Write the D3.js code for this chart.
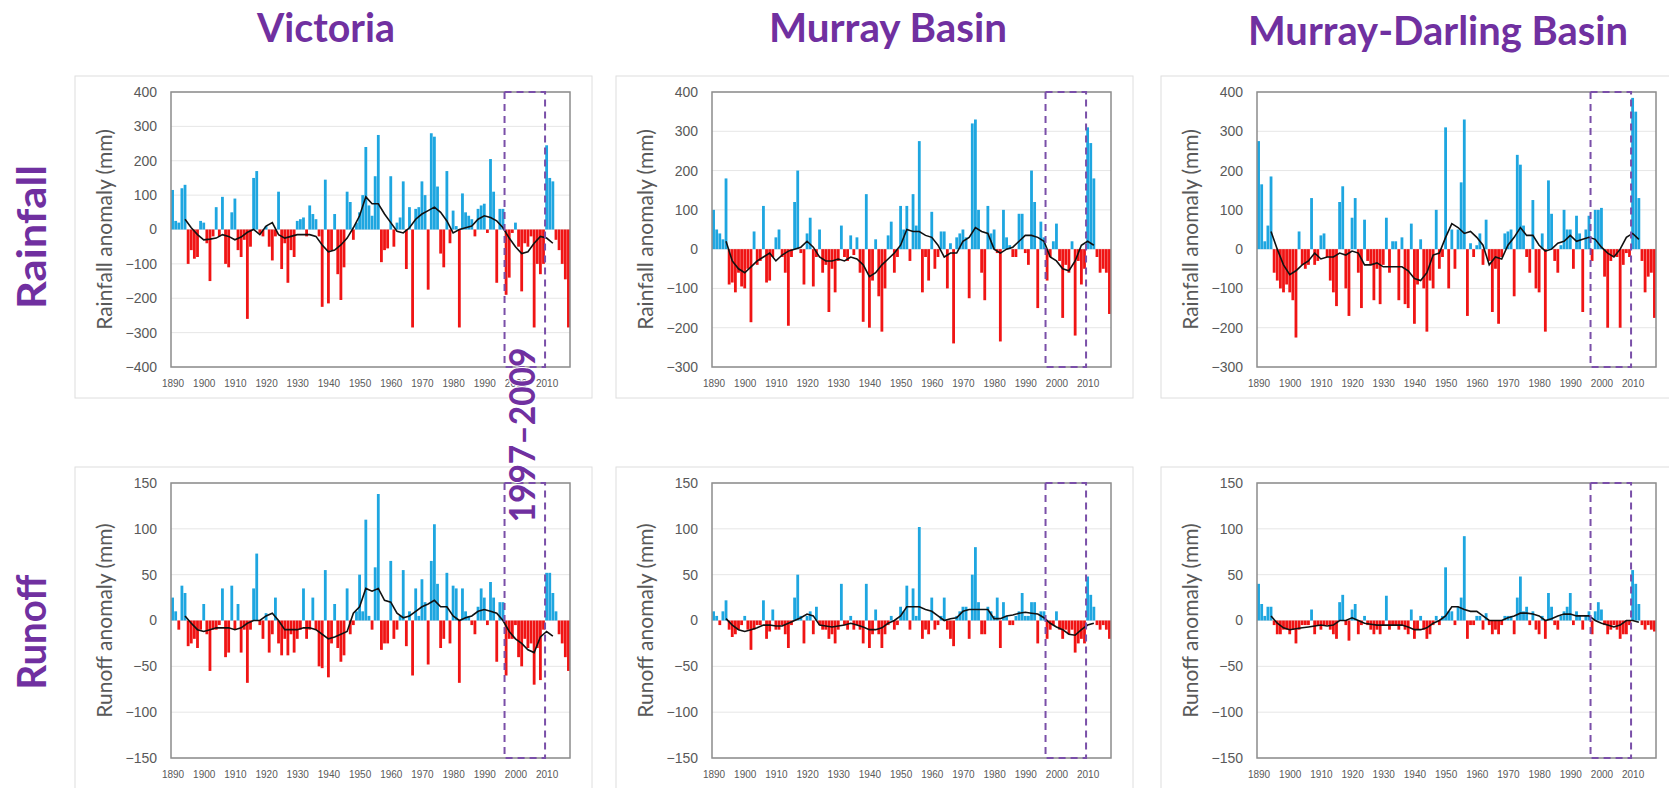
<!DOCTYPE html>
<html>
<head>
<meta charset="utf-8">
<script src="https://cdn.jsdelivr.net/npm/d3@7"></script>
<style>
body { margin: 0; background: #fff; }
svg { display: block; font-family: Lato, "Open Sans", sans-serif; }
</style>
</head>
<body>
<div id="chart"></div>
<script>
// years on the x axis and the decade labels
var firstYear = 1890, lastYear = 2017;
var xTicks = [1890, 1900, 1910, 1920, 1930, 1940, 1950, 1960, 1970, 1980, 1990, 2000, 2010];
// y tick labels
var vicRainTicks = [-400, -300, -200, -100, 0, 100, 200, 300, 400];
var basinRainTicks = [-300, -200, -100, 0, 100, 200, 300, 400];
var runoffTicks = [-150, -100, -50, 0, 50, 100, 150];
// years of the running mean (black line)
var maFirst = 1894, maLast = 2012, maStep = 2;
// the drought window
var droughtStart = 1997, droughtEnd = 2009;

var titles = ["Victoria", "Murray Basin", "Murray-Darling Basin"];
var rowNames = ["Rainfall", "Runoff"];

// annual anomalies 1890..2017 (mm)
var vicRain = [
	115, 25, 20, 120, 130, -100, -60, -85, -80, 25,
	20, -40, -150, -20, 65, -20, 95, -100, -110, 50,
	90, -60, -80, -30, -260, -50, 150, 170, -10, -20,
	10, -50, -90, -20, 110, -115, -40, -155, -60, -80,
	25, 30, 35, -20, 70, 45, 30, -20, -225, 145,
	-215, -60, 45, -130, -205, -110, 110, 80, -30, 20,
	50, 100, 240, 70, 40, 155, 275, -95, -60, -55,
	155, -50, 20, 35, 140, -115, 65, -285, 60, 65,
	140, 100, -175, 280, 270, 125, -70, -110, 170, -40,
	55, 10, -285, 105, 50, 40, 30, -20, 60, 70,
	75, -10, 205, 110, -155, 60, 60, -190, -140, -10,
	20, -50, -180, -40, -50, -20, -285, -100, -130, -100,
	245, 150, 140, -30, -60, -100, -145, -285
];
var vicRunoff = [
	25, 10, -10, 38, 30, -28, -25, -20, -30, -10,
	18, -15, -55, -10, -10, -5, 35, -40, -35, 38,
	-10, 18, -35, -10, -68, -10, 35, 73, -5, -20,
	8, -35, -15, 25, -25, -38, -20, -38, -15, -35,
	-20, -10, 35, -20, -10, 25, -10, -50, -52, 55,
	-62, -25, 18, -30, -45, -38, 35, -15, -5, 10,
	50, 10, 110, 5, -10, 58, 138, -32, -25, -25,
	65, -20, -10, 5, 55, -28, 10, -60, 35, 5,
	45, 20, -48, 65, 105, 40, -30, -20, 52, -25,
	38, 35, -68, 35, 10, 5, -5, -15, 15, 35,
	25, -5, 42, 25, -45, 20, 20, -60, -20, -20,
	-5, -40, -50, -20, -30, -25, -70, -30, -65, -10,
	52, 52, 30, 10, -15, -25, -40, -55
];
var murRain = [
	100, 50, 40, 25, 180, -90, -85, -110, -60, -95,
	-100, -50, -186, 45, -40, -30, 110, -85, -80, -20,
	30, 50, -20, -60, -195, -20, 120, 200, -10, -90,
	40, 80, -95, -20, 50, -60, -40, -160, -50, -110,
	-30, 60, -20, -30, 35, -15, 30, -60, -185, 140,
	-200, -80, 25, -120, -210, -100, 35, 70, -60, -20,
	110, 50, 110, -30, 140, 60, 275, -110, -20, -80,
	95, -50, -20, 45, 45, -100, 15, -240, 30, 40,
	50, 30, -125, 320, 330, 100, -60, -130, 110, 40,
	50, -10, -235, 100, 30, 10, -20, -20, 90, 90,
	-10, -40, 200, 120, -150, 70, 30, -80, -20, 20,
	65, -30, -175, -40, -60, 20, -220, -30, -90, -50,
	310, 270, 180, -20, -60, -50, -60, -165
];
var murRunoff = [
	10, 5, -5, 10, 22, -10, -18, -15, -10, -5,
	5, -10, -32, -10, -5, -5, 22, -20, -12, 12,
	-10, -10, -5, -15, -30, -5, 25, 50, 5, -25,
	5, 10, -15, 15, -5, -10, -10, -20, -15, -25,
	-10, 40, -5, -10, 5, -10, -5, -10, -25, 40,
	-30, -15, 12, -15, -30, -15, -5, 5, -10, -5,
	15, 10, 38, -10, 35, 5, 102, -20, -10, -15,
	25, -10, -5, 5, 25, -10, -20, -28, 5, 10,
	15, 15, -20, 50, 80, 20, -15, -15, 15, 10,
	5, 25, -30, 20, 5, -5, -5, 5, 10, 30,
	5, 5, 20, 20, -25, 10, 10, -20, -10, -5,
	10, -10, -20, -10, -15, -10, -35, -25, -20, -25,
	48, 28, 15, -5, -10, -5, -10, -20
];
var mdbRain = [
	275, 165, 20, 60, 185, -60, -80, -100, -110, -90,
	-110, -130, -225, 45, -40, -50, -40, 130, -40, -30,
	35, 40, -20, -80, -110, -145, 120, 160, -100, -170,
	80, 130, -60, -150, 75, -30, -40, -130, -50, -140,
	-40, 80, -60, 20, 20, -130, 30, -140, -150, 65,
	-190, -90, 25, -100, -210, -80, -100, 100, -50, -20,
	310, -100, 50, -50, 50, 170, 330, -170, 15, -20,
	10, 40, -40, 75, -30, -160, -50, -190, -20, 40,
	45, 50, -120, 240, 215, 60, -20, -60, 125, -100,
	-110, 40, -210, 175, 90, -30, -60, 10, 100, 50,
	50, -50, 85, 40, -160, 50, 85, -30, 100, 100,
	105, -70, -200, -30, -20, -20, -200, -40, -10, -20,
	385, 350, 130, -30, -110, -70, -60, -175
];
var mdbRunoff = [
	40, 18, 5, 15, 15, -5, -15, -15, -10, -10,
	-15, -10, -25, -10, -5, -5, -5, 12, -15, -5,
	-10, -5, -5, -10, -15, -20, 20, 28, -5, -22,
	12, 18, -15, -5, 5, -5, -10, -15, -10, -15,
	-5, 27, -10, -5, -5, -10, -5, -10, -15, 12,
	-20, -10, 5, -10, -20, -15, -5, 5, -5, 5,
	58, 10, 10, -5, 15, 25, 92, -20, -5, -5,
	5, 5, -10, 8, -5, -15, -10, -15, -5, 5,
	5, 5, -15, 25, 48, 10, 15, -5, 10, -10,
	-15, 5, -20, 30, 15, -5, -10, 5, 10, 15,
	30, -5, 10, 5, -10, 5, 10, -15, 10, 20,
	12, -5, -15, -10, -5, -10, -20, -15, -15, -5,
	55, 40, 18, -5, -10, -5, -10, -12
];

// running mean, every 2nd year 1894..2012
var vicRainMA = [
	30, 5, -15, -30, -28, -25, -15, -20, -30, -22,
	-8, 0, -15, 10, 20, -15, -25, -20, -15, -15,
	-15, -20, -45, -65, -60, -45, -25, 5, 40, 95,
	75, 75, 45, 20, -5, -10, 5, 30, 45, 55,
	65, 50, 25, -10, 0, 5, 10, 30, 40, 35,
	25, 5, -25, -50, -70, -65, -40, -20, -25, -40
];
var vicRunoffMA = [
	5, -3, -10, -12, -10, -8, -8, -8, -10, -8,
	-3, 0, 0, 5, 8, 0, -10, -10, -10, -8,
	-8, -10, -15, -20, -18, -15, -12, 8, 15, 35,
	32, 35, 22, 20, 8, 3, 5, 10, 15, 18,
	22, 15, 15, 5, 0, 3, 5, 10, 12, 10,
	8, 0, -12, -20, -25, -32, -35, -18, -12, -17
];
var murRainMA = [
	20, -30, -50, -60, -45, -30, -20, -10, -30, -15,
	-5, 0, 5, 20, 5, -20, -30, -30, -25, -30,
	-20, -25, -40, -70, -60, -40, -25, -10, 10, 50,
	45, 45, 35, 30, 10, -20, -10, -10, 20, 30,
	55, 45, 40, 0, -10, 0, 5, 20, 35, 35,
	30, 20, -20, -30, -50, -55, -30, 10, 20, 10
];
var murRunoffMA = [
	2, -5, -10, -12, -10, -8, -5, -5, -6, -6,
	-3, 0, 3, 7, 5, -5, -6, -7, -6, -5,
	-3, -5, -7, -10, -10, -8, -3, 0, 5, 15,
	15, 15, 12, 10, 5, 0, 2, 3, 10, 12,
	12, 12, 12, 2, 2, 5, 6, 8, 9, 8,
	7, 3, -3, -7, -10, -15, -16, -10, -5, -3
];
var mdbRainMA = [
	45, 0, -40, -65, -55, -40, -30, -10, -25, -20,
	-20, -10, -15, -5, -10, -40, -40, -35, -45, -45,
	-45, -45, -55, -75, -80, -60, -15, -10, 30, 65,
	55, 40, 45, 30, 10, -40, -20, -25, 10, 30,
	55, 35, 35, 10, -5, 0, 15, 20, 35, 20,
	25, 30, 25, 5, -10, -20, 0, 30, 40, 25
];
var mdbRunoffMA = [
	5, -3, -8, -10, -9, -8, -7, -6, -5, -6,
	-5, 0, 0, 3, 0, -3, -4, -5, -5, -5,
	-5, -5, -7, -10, -10, -8, -3, 0, 5, 15,
	15, 12, 10, 10, 5, 0, 0, 0, 3, 5,
	8, 8, 7, 5, 0, 2, 5, 7, 7, 5,
	5, 5, 0, -3, -5, -7, -5, 0, 0, -2
];

var purple = "#7030a0", dashColor = "#7a4fa8", blue = "#1ea6e0", red = "#f01414", grey = "#595959";

// layout of the six plot areas
var plotW = 399, plotH = 275;
var colX = [171, 712, 1257];
var rowY = [92, 483];

var years = d3.range(firstYear, lastYear + 1);
var maYears = d3.range(maFirst, maLast + 1, maStep);

var panels = [
	{col: 0, row: 0, bars: vicRain, ma: vicRainMA, ticks: vicRainTicks, label: "Rainfall anomaly (mm)"},
	{col: 1, row: 0, bars: murRain, ma: murRainMA, ticks: basinRainTicks, label: "Rainfall anomaly (mm)"},
	{col: 2, row: 0, bars: mdbRain, ma: mdbRainMA, ticks: basinRainTicks, label: "Rainfall anomaly (mm)"},
	{col: 0, row: 1, bars: vicRunoff, ma: vicRunoffMA, ticks: runoffTicks, label: "Runoff anomaly (mm)"},
	{col: 1, row: 1, bars: murRunoff, ma: murRunoffMA, ticks: runoffTicks, label: "Runoff anomaly (mm)"},
	{col: 2, row: 1, bars: mdbRunoff, ma: mdbRunoffMA, ticks: runoffTicks, label: "Runoff anomaly (mm)"}
];

var svg = d3.select("#chart").append("svg")
	.attr("width", 1669)
	.attr("height", 788);

var drawPanel = function(p) {
	var left = colX[p.col], top = rowY[p.row];
	var g = svg.append("g");

	var x = d3.scaleLinear()
		.domain([firstYear - 0.5, lastYear + 0.5])
		.range([left, left + plotW]);
	var y = d3.scaleLinear()
		.domain(d3.extent(p.ticks))
		.range([top + plotH, top]);

	// chart frame
	g.append("rect")
		.attr("x", left - 96).attr("y", top - 16)
		.attr("width", 517).attr("height", 322)
		.attr("fill", "#fff")
		.attr("stroke", "#dedede");

	// gridlines
	g.selectAll(".grid").data(p.ticks).enter()
		.append("line")
		.attr("x1", left).attr("x2", left + plotW)
		.attr("y1", function(d) { return y(d); })
		.attr("y2", function(d) { return y(d); })
		.attr("stroke", "#e6e6e6");

	// bars
	g.selectAll(".bar").data(p.bars).enter()
		.append("rect")
		.attr("x", function(d, i) { return x(years[i] - 0.45); })
		.attr("width", function(d, i) { return x(years[i] + 0.45) - x(years[i] - 0.45); })
		.attr("y", function(d) { return Math.min(y(d), y(0)); })
		.attr("height", function(d) { return Math.abs(y(d) - y(0)); })
		.attr("fill", function(d) { return d >= 0 ? blue : red; });

	// running mean
	var line = d3.line()
		.x(function(d, i) { return x(maYears[i]); })
		.y(function(d) { return y(d); });
	g.append("path")
		.attr("d", line(p.ma))
		.attr("fill", "none")
		.attr("stroke", "#111")
		.attr("stroke-width", 1.6);

	// plot border
	g.append("rect")
		.attr("x", left).attr("y", top)
		.attr("width", plotW).attr("height", plotH)
		.attr("fill", "none")
		.attr("stroke", "#8c8c8c")
		.attr("stroke-width", 1.5);

	// drought window
	g.append("rect")
		.attr("x", x(droughtStart - 0.5)).attr("y", top)
		.attr("width", x(droughtEnd + 0.5) - x(droughtStart - 0.5))
		.attr("height", plotH)
		.attr("fill", "none")
		.attr("stroke", dashColor)
		.attr("stroke-width", 2)
		.attr("stroke-dasharray", "7,5");

	// axes
	var ya = g.append("g")
		.attr("transform", "translate(" + left + ",0)")
		.call(d3.axisLeft(y).tickValues(p.ticks).tickSize(0).tickPadding(14));
	ya.select(".domain").remove();
	ya.selectAll("text").attr("fill", grey).style("font-size", "14px");

	var xa = g.append("g")
		.attr("transform", "translate(0," + (top + plotH) + ")")
		.call(d3.axisBottom(x).tickValues(xTicks).tickFormat(d3.format("d")).tickSize(0).tickPadding(13));
	xa.select(".domain").remove();
	xa.selectAll("text").attr("fill", grey).style("font-size", "10px");

	g.append("text")
		.attr("transform", "translate(" + (left - 66) + "," + (top + plotH / 2) + ") rotate(-90)")
		.attr("text-anchor", "middle")
		.attr("dy", "0.35em")
		.attr("fill", grey)
		.style("font-size", "21px")
		.text(p.label);
};

panels.forEach(drawPanel);

// column titles
var titleX = [326, 888, 1438], titleW = [138, 238, 380], titleY = [42, 42, 45];
svg.selectAll(".title").data(titles).enter()
	.append("text")
	.attr("x", function(d, i) { return titleX[i]; })
	.attr("y", function(d, i) { return titleY[i]; })
	.attr("text-anchor", "middle")
	.attr("textLength", function(d, i) { return titleW[i]; })
	.attr("lengthAdjust", "spacingAndGlyphs")
	.attr("fill", purple)
	.style("font-size", "40px")
	.style("font-weight", "bold")
	.text(function(d) { return d; });

// row titles
var rowCY = [237, 632], rowW = [144, 115];
svg.selectAll(".rowname").data(rowNames).enter()
	.append("text")
	.attr("transform", function(d, i) { return "translate(32," + rowCY[i] + ") rotate(-90)"; })
	.attr("text-anchor", "middle")
	.attr("dy", "0.35em")
	.attr("textLength", function(d, i) { return rowW[i]; })
	.attr("lengthAdjust", "spacingAndGlyphs")
	.attr("fill", purple)
	.style("font-size", "40px")
	.style("font-weight", "bold")
	.text(function(d) { return d; });

// label of the drought window
svg.append("text")
	.attr("transform", "translate(522,435) rotate(-90)")
	.attr("text-anchor", "middle")
	.attr("dy", "0.35em")
	.attr("textLength", 175)
	.attr("lengthAdjust", "spacingAndGlyphs")
	.attr("fill", purple)
	.attr("stroke", "#fff")
	.attr("stroke-width", 2)
	.attr("paint-order", "stroke")
	.style("font-size", "37px")
	.style("font-weight", "bold")
	.text(droughtStart + "\u2013" + droughtEnd);
</script>
</body>
</html>
